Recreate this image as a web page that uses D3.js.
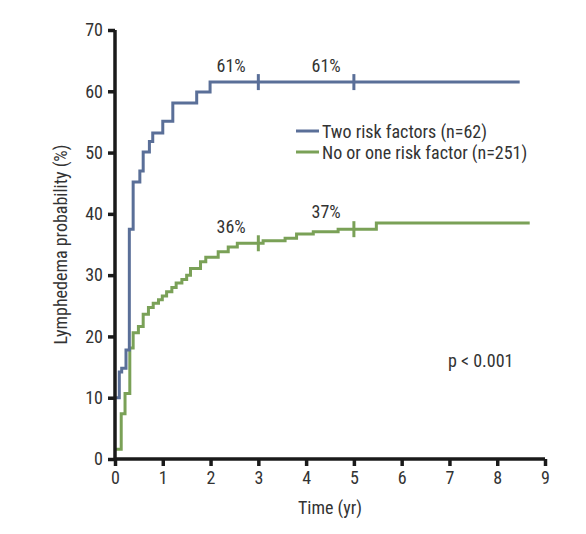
<!DOCTYPE html>
<html><head><meta charset="utf-8">
<script src="https://cdn.jsdelivr.net/npm/d3@7"></script>
<style>
body{margin:0;background:#fff;}
text{font-family:"Liberation Sans Narrow","Arial Narrow","Roboto Condensed",sans-serif;fill:#333;}
</style></head><body>
<svg id="c" width="586" height="534"></svg>
<script>
const xTicks = [0,1,2,3,4,5,6,7,8,9];
const yTicks = [0,10,20,30,40,50,60,70];
const blueTimes = [0, 0.09, 0.14, 0.23, 0.30, 0.38, 0.52, 0.59, 0.72, 0.79, 1.0, 1.21, 1.71, 1.99, 8.47];
const blueVals  = [10, 14.2, 14.8, 17.8, 37.5, 45.2, 47.0, 50.1, 51.8, 53.2, 55.1, 58.1, 59.9, 61.5, 61.5];
const greenTimes = [0, 0.13, 0.21, 0.31, 0.38, 0.49, 0.59, 0.70, 0.80, 0.91, 0.99, 1.08, 1.19, 1.28, 1.40, 1.50, 1.58, 1.79, 1.90, 2.16, 2.37, 2.56, 3.10, 3.56, 3.80, 4.15, 4.67, 5.47, 8.68];
const greenVals  = [1.6, 7.4, 10.7, 18.1, 20.6, 21.6, 23.6, 24.7, 25.4, 26.0, 26.6, 27.3, 28.0, 28.7, 29.3, 30.0, 31.1, 32.2, 32.9, 33.8, 34.6, 35.2, 35.6, 36.0, 36.7, 37.1, 37.5, 38.5, 38.5];
const censorTimes = [3, 5];
const annotations = [
  {t:2.43, v:63.1, text:"61%"},
  {t:4.42, v:63.1, text:"61%"},
  {t:2.43, v:36.9, text:"36%"},
  {t:4.42, v:39.3, text:"37%"}
];
const seriesNames = ["Two risk factors (n=62)", "No or one risk factor (n=251)"];
const colors = ["#5a6f98", "#7aa157"];

const W=586,H=534, m={l:115,r:41,t:30,b:75};
const svg=d3.select("#c");
const x=d3.scaleLinear().domain([0,9]).range([m.l,W-m.r]);
const y=d3.scaleLinear().domain([0,70]).range([H-m.b,m.t]);

const series=[
  {times:blueTimes, vals:blueVals, color:colors[0]},
  {times:greenTimes, vals:greenVals, color:colors[1]}
];
const line=d3.line().x(d=>x(d[0])).y(d=>y(d[1])).curve(d3.curveStepAfter);
function valAt(s,t){let v=s.vals[0];for(let i=0;i<s.times.length;i++){if(s.times[i]<=t)v=s.vals[i];}return v;}

[series[1],series[0]].forEach(s=>{
  const pts=s.times.map((t,i)=>[t,s.vals[i]]);
  svg.append("path").attr("d",line(pts)).attr("fill","none")
    .attr("stroke",s.color).attr("stroke-width",3);
  censorTimes.forEach(ct=>{
    const v=valAt(s,ct);
    svg.append("line").attr("x1",x(ct)).attr("x2",x(ct))
      .attr("y1",y(v)-8).attr("y2",y(v)+8)
      .attr("stroke",s.color).attr("stroke-width",3);
  });
});

const xa=svg.append("g").attr("transform",`translate(0,${H-m.b})`)
  .call(d3.axisBottom(x).tickValues(xTicks).tickSize(7).tickPadding(5).tickFormat(d3.format("d")));
const ya=svg.append("g").attr("transform",`translate(${m.l},0)`)
  .call(d3.axisLeft(y).tickValues(yTicks).tickSize(7).tickPadding(5).tickFormat(d3.format("d")));
[xa,ya].forEach(a=>{
  a.select(".domain").attr("stroke","#1a1a1a").attr("stroke-width",3.5);
  a.selectAll(".tick line").attr("stroke","#1a1a1a").attr("stroke-width",3.5);
  a.selectAll(".tick text").attr("font-size",18).style("fill","#333");
});
xa.select(".domain").attr("d",`M${m.l},0H${W-m.r}`);
ya.select(".domain").attr("d",`M0,${H-m.b}V${m.t}`);

svg.append("text").attr("x",x(4.5)).attr("y",514).attr("text-anchor","middle")
  .attr("font-size",18).text("Time (yr)");
svg.append("text").attr("transform",`translate(67,${y(35)}) rotate(-90)`)
  .attr("text-anchor","middle").attr("font-size",18).text("Lymphedema probability (%)");

annotations.forEach(a=>{
  svg.append("text").attr("x",x(a.t)).attr("y",y(a.v)).attr("text-anchor","middle")
    .attr("font-size",18).text(a.text);
});

seriesNames.forEach((n,i)=>{
  const yy=131+i*21;
  svg.append("line").attr("x1",296).attr("x2",319).attr("y1",yy).attr("y2",yy)
    .attr("stroke",colors[i]).attr("stroke-width",3);
  svg.append("text").attr("x",322).attr("y",yy+6.5).attr("font-size",18).text(n);
});

svg.append("text").attr("x",448).attr("y",367).attr("font-size",18).text("p < 0.001");
</script>
</body></html>
